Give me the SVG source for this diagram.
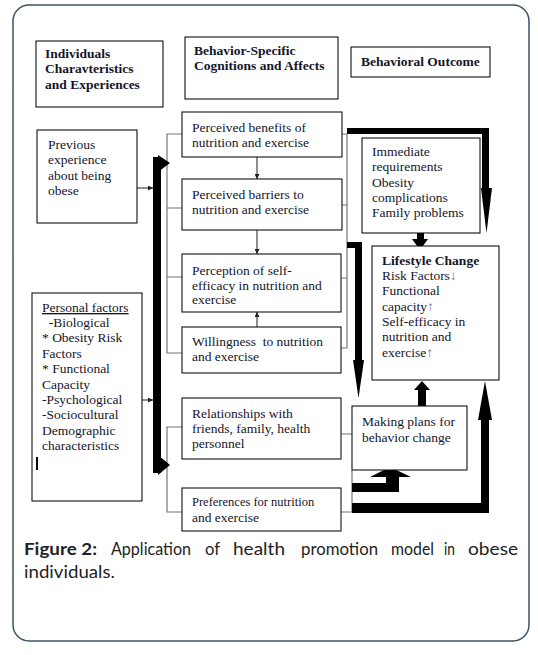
<svg xmlns="http://www.w3.org/2000/svg" width="538" height="655" viewBox="0 0 538 655">
<defs>
<style>
.box{fill:#fff;stroke:#111;stroke-width:1.1}
.t{font-family:"Liberation Serif","Times New Roman",serif;font-size:13.5px;fill:#15152a}
.b{font-weight:bold}
.grey{fill:none;stroke:#777;stroke-width:1.2}
.thin{fill:none;stroke:#333;stroke-width:1.1}
.blk{fill:#000}
.cap{font-family:Lato,"Liberation Sans",Arial,sans-serif;font-size:17.5px;fill:#222}
</style>
<marker id="ah" viewBox="0 0 10 10" refX="10" refY="5" markerWidth="5" markerHeight="5" orient="auto" markerUnits="userSpaceOnUse">
<path d="M0,0 L10,5 L0,10 z" fill="#222"/>
</marker>
</defs>
<rect x="13" y="5" width="516" height="636" rx="16" fill="#fff" stroke="#3d5166" stroke-width="1.5"/>

<g id="connectors">
<path class="grey" d="M182,134 H167 V353 H182 M167,208 H182 M167,277 H182"/>
<path class="grey" d="M182,427 H167 V512 H182"/>
<path class="grey" d="M342,134 H347 V348 H341 M342,205 H347 M341,278 H347"/>
<path class="grey" d="M341,434 H352 M341,512 H352 V470"/>
<line class="thin" x1="257" y1="157" x2="257" y2="179" marker-end="url(#ah)"/>
<line class="thin" x1="257" y1="230" x2="257" y2="254" marker-end="url(#ah)"/>
<line class="thin" x1="257" y1="327" x2="257" y2="312" marker-end="url(#ah)"/>
<line class="thin" x1="137" y1="188" x2="153" y2="188" marker-end="url(#ah)"/>
<line class="thin" x1="142" y1="400" x2="153" y2="400" marker-end="url(#ah)"/>
<rect class="blk" x="153" y="157" width="8" height="316"/>
<polygon class="blk" points="158,155 158,172 170,163"/>
<polygon class="blk" points="158,455 158,475 170,465"/>
<rect class="blk" x="347" y="128" width="142" height="6"/>
<rect class="blk" x="482" y="128" width="7" height="61"/>
<polygon class="blk" points="481,188 492,188 486.5,233"/>
<rect class="blk" x="417" y="233" width="7" height="6"/>
<polygon class="blk" points="412,239 428,239 420,250"/>
<rect class="blk" x="347" y="242" width="15" height="6"/>
<rect class="blk" x="355" y="242" width="7" height="119"/>
<polygon class="blk" points="353,360 364,360 358.5,398"/>
<rect class="blk" x="418" y="389" width="8" height="17"/>
<polygon class="blk" points="414,390 430,390 422,381"/>
<rect class="blk" x="352" y="503" width="137" height="10"/>
<rect class="blk" x="481" y="419" width="8" height="94"/>
<polygon class="blk" points="478,420 492,420 485,381"/>
<rect class="blk" x="352" y="483" width="47" height="9"/>
<rect class="blk" x="386" y="476" width="13" height="16"/>
<polygon class="blk" points="370,477 411,477 390,467"/>
</g>

<g id="hdr-individuals">
<rect class="box" x="36" y="41" width="127" height="66"/>
<text class="t b" x="45" y="57.5">Individuals</text>
<text class="t b" x="45" y="73">Charavteristics</text>
<text class="t b" x="45" y="88.5">and Experiences</text>
</g>
<g id="hdr-behavior">
<rect class="box" x="185" y="37" width="153" height="62"/>
<text class="t b" x="194" y="55">Behavior-Specific</text>
<text class="t b" x="194" y="70">Cognitions and Affects</text>
</g>
<g id="hdr-outcome">
<rect class="box" x="351" y="47" width="139" height="30"/>
<text class="t b" x="361" y="65.5">Behavioral Outcome</text>
</g>
<g id="previous">
<rect class="box" x="37" y="130" width="100" height="93"/>
<text class="t" x="48" y="148.5">Previous</text>
<text class="t" x="48" y="164">experience</text>
<text class="t" x="48" y="179.5">about being</text>
<text class="t" x="48" y="195">obese</text>
</g>
<g id="personal">
<rect class="box" x="32" y="293" width="110" height="208"/>
<text class="t" x="42" y="312" text-decoration="underline">Personal factors</text>
<text class="t" x="42" y="327" xml:space="preserve">  -Biological</text>
<text class="t" x="42" y="342">* Obesity Risk</text>
<text class="t" x="42" y="358">Factors</text>
<text class="t" x="42" y="373">* Functional</text>
<text class="t" x="42" y="388.5">Capacity</text>
<text class="t" x="42" y="404">-Psychological</text>
<text class="t" x="42" y="419">-Sociocultural</text>
<text class="t" x="42" y="434.5">Demographic</text>
<text class="t" x="42" y="450">characteristics</text>
<rect x="36" y="457" width="2" height="13" fill="#000"/>
</g>
<g id="benefits">
<rect class="box" x="182" y="112" width="160" height="45"/>
<text class="t" x="192" y="131.5">Perceived benefits of</text>
<text class="t" x="192" y="146.5">nutrition and exercise</text>
</g>
<g id="barriers">
<rect class="box" x="182" y="179" width="160" height="51"/>
<text class="t" x="192" y="198.5">Perceived barriers to</text>
<text class="t" x="192" y="213.5">nutrition and exercise</text>
</g>
<g id="selfefficacy">
<rect class="box" x="182" y="254" width="159" height="58"/>
<text class="t" x="192" y="274.5">Perception of self-</text>
<text class="t" x="192" y="289.5">efficacy in nutrition and</text>
<text class="t" x="192" y="304">exercise</text>
</g>
<g id="willingness">
<rect class="box" x="182" y="327" width="159" height="46"/>
<text class="t" x="192" y="345.5" xml:space="preserve">Willingness  to nutrition</text>
<text class="t" x="192" y="361">and exercise</text>
</g>
<g id="relationships">
<rect class="box" x="182" y="398" width="159" height="61"/>
<text class="t" x="192" y="417.5">Relationships with</text>
<text class="t" x="192" y="432.5">friends, family, health</text>
<text class="t" x="192" y="447.5">personnel</text>
</g>
<g id="preferences">
<rect class="box" x="182" y="488" width="159" height="43"/>
<text class="t" x="192" y="506" style="font-size:12.5px">Preferences for nutrition</text>
<text class="t" x="192" y="521.5">and exercise</text>
</g>
<g id="immediate">
<rect class="box" x="362" y="138" width="118" height="95"/>
<text class="t" x="372" y="156">Immediate</text>
<text class="t" x="372" y="171.3">requirements</text>
<text class="t" x="372" y="186.6">Obesity</text>
<text class="t" x="372" y="202">complications</text>
<text class="t" x="372" y="217.3">Family problems</text>
</g>
<g id="lifestyle">
<rect class="box" x="372" y="246" width="127" height="134"/>
<text class="t b" x="382" y="264.5">Lifestyle Change</text>
<text class="t" x="382" y="279.5">Risk Factors<tspan fill="#6a7590">↓</tspan></text>
<text class="t" x="382" y="294.5">Functional</text>
<text class="t" x="382" y="310.5">capacity<tspan fill="#6a7590">↑</tspan></text>
<text class="t" x="382" y="325.5">Self-efficacy in</text>
<text class="t" x="382" y="341">nutrition and</text>
<text class="t" x="382" y="357">exercise<tspan fill="#6a7590">↑</tspan></text>
</g>
<g id="plans">
<rect class="box" x="352" y="406" width="115" height="64"/>
<text class="t" x="362" y="425.5">Making plans for</text>
<text class="t" x="362" y="441.5">behavior change</text>
</g>

<g id="caption">
<text class="cap" x="24" y="555" font-weight="bold" fill="#111" textLength="73" lengthAdjust="spacingAndGlyphs">Figure 2:</text>
<text class="cap" x="111" y="555" textLength="80" lengthAdjust="spacingAndGlyphs">Application</text>
<text class="cap" x="205" y="555" textLength="15" lengthAdjust="spacingAndGlyphs">of</text>
<text class="cap" x="233" y="555" textLength="52" lengthAdjust="spacingAndGlyphs">health</text>
<text class="cap" x="301" y="555" textLength="77" lengthAdjust="spacingAndGlyphs">promotion</text>
<text class="cap" x="391" y="555" textLength="43" lengthAdjust="spacingAndGlyphs">model</text>
<text class="cap" x="444" y="555" textLength="11" lengthAdjust="spacingAndGlyphs">in</text>
<text class="cap" x="468" y="555" textLength="50" lengthAdjust="spacingAndGlyphs">obese</text>
<text class="cap" x="24" y="578" textLength="91" lengthAdjust="spacingAndGlyphs">individuals.</text>
</g>
</svg>
